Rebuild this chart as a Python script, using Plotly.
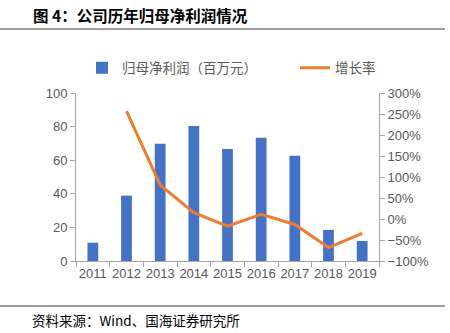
import plotly.graph_objects as go

years = ["2011", "2012", "2013", "2014", "2015", "2016", "2017", "2018", "2019"]
profit = [10.9, 38.9, 69.8, 80.4, 66.7, 73.4, 62.7, 18.5, 11.9]
growth = [None, 257, 81, 15, -17, 11, -13, -68, -34]

W, H = 450, 333
L, R, T, B = 76, 379, 93, 261

def px(x):
    return (x - L) / (R - L)

def py(y):
    return (B - y) / (B - T)

tick_font = dict(family="Liberation Sans, Arial, sans-serif", size=13, color="#595959")
cjk = "Noto Sans CJK SC, sans-serif"
leg_font = dict(family=cjk, size=13.5, color="#595959")

fig = go.Figure()
fig.add_trace(go.Bar(x=years, y=profit, name="归母净利润（百万元）",
                     marker=dict(color="#4472C4", line=dict(width=0)), yaxis="y",
                     legend="legend"))
fig.add_trace(go.Scatter(x=years, y=growth, name="增长率", mode="lines",
                         line=dict(color="#ED7D31", width=3), yaxis="y2",
                         legend="legend2"))

fig.update_layout(
    width=W, height=H,
    margin=dict(l=L, r=W - R, t=T, b=H - B),
    paper_bgcolor="white", plot_bgcolor="white",
    bargap=0.68,
    showlegend=True,
    legend=dict(orientation="h", x=px(82), y=py(68), xanchor="left", yanchor="middle",
                font=leg_font, bgcolor="rgba(0,0,0,0)"),
    legend2=dict(orientation="h", x=px(295), y=py(68), xanchor="left", yanchor="middle",
                 font=leg_font, bgcolor="rgba(0,0,0,0)"),
    xaxis=dict(type="category", showline=True, linecolor="#A6A6A6", linewidth=1,
               ticks="outside", tickson="boundaries", ticklen=5, tickcolor="#A6A6A6",
               tickangle=0, tickfont=tick_font, showgrid=False),
    yaxis=dict(range=[0, 100], dtick=20, showline=True, linecolor="#A6A6A6",
               ticks="outside", ticklen=5, tickcolor="#A6A6A6", tickfont=tick_font,
               showgrid=False, zeroline=False),
    yaxis2=dict(range=[-100, 300], dtick=50, overlaying="y", side="right",
                showline=True, linecolor="#A6A6A6", ticks="outside", ticklen=5,
                tickcolor="#A6A6A6", ticksuffix="%", tickfont=tick_font,
                showgrid=False, zeroline=False),
    shapes=[
        dict(type="line", xref="paper", yref="paper", x0=px(0), x1=px(445), y0=py(29), y1=py(29),
             line=dict(color="#7F7F7F", width=1.5)),
        dict(type="line", xref="paper", yref="paper", x0=px(0), x1=px(445), y0=py(306), y1=py(306),
             line=dict(color="#404040", width=1)),
    ],
    annotations=[
        dict(text="<b>图 4：公司历年归母净利润情况</b>", xref="paper", yref="paper",
             x=px(31), y=py(15), xanchor="left", yanchor="middle", showarrow=False,
             font=dict(family=cjk, size=15.5, color="#000000")),
        dict(text="资料来源：Wind、国海证券研究所", xref="paper", yref="paper",
             x=px(30), y=py(320), xanchor="left", yanchor="middle", showarrow=False,
             font=dict(family=cjk, size=13.5, color="#000000")),
    ],
)

fig.write_html("out.html")
